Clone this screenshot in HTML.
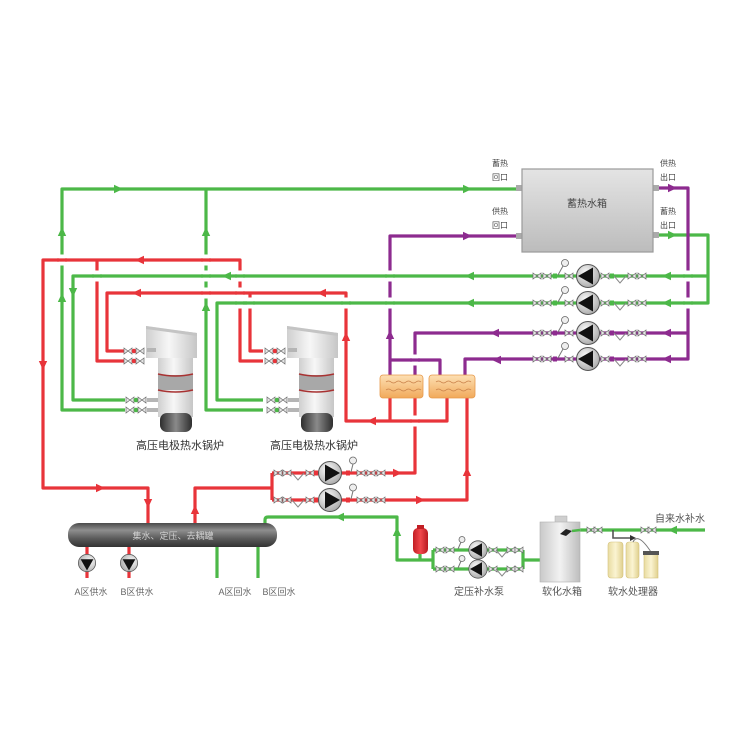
<!DOCTYPE html>
<html><head><meta charset="utf-8"><style>
html,body{margin:0;padding:0;background:#fff;}
svg{display:block;}
text{font-family:"Liberation Sans","Noto Sans CJK SC",sans-serif;}
</style></head><body>
<svg width="750" height="750" viewBox="0 0 750 750" xmlns="http://www.w3.org/2000/svg">
<defs>
 <path id="ar" d="M5,0 L-4,-4.2 L-4,4.2Z"/>
 <linearGradient id="tankG" x1="0" y1="0" x2="0" y2="1"><stop offset="0" stop-color="#e4e4e4"/><stop offset="1" stop-color="#bcbcbc"/></linearGradient>
 <linearGradient id="colG" x1="0" y1="0" x2="0" y2="1"><stop offset="0" stop-color="#4a4a4a"/><stop offset="0.3" stop-color="#8e8e8e"/><stop offset="0.65" stop-color="#5a5a5a"/><stop offset="1" stop-color="#333"/></linearGradient>
 <linearGradient id="hxG" x1="0" y1="0" x2="0" y2="1"><stop offset="0" stop-color="#fde0b4"/><stop offset="1" stop-color="#f1a95a"/></linearGradient>
 <radialGradient id="pumpG" cx="0.4" cy="0.35" r="0.7"><stop offset="0" stop-color="#fafafa"/><stop offset="1" stop-color="#a8a8a8"/></radialGradient>
 <linearGradient id="boilG" x1="0" y1="0" x2="1" y2="0"><stop offset="0" stop-color="#cfcfcf"/><stop offset="0.45" stop-color="#f7f7f7"/><stop offset="1" stop-color="#c6c6c6"/></linearGradient>
 <linearGradient id="boilBot" x1="0" y1="0" x2="1" y2="0"><stop offset="0" stop-color="#2e2e2e"/><stop offset="0.5" stop-color="#8a8a8a"/><stop offset="1" stop-color="#2e2e2e"/></linearGradient>
 <linearGradient id="softG" x1="0" y1="0" x2="1" y2="0"><stop offset="0" stop-color="#c9c9c9"/><stop offset="0.5" stop-color="#f2f2f2"/><stop offset="1" stop-color="#bdbdbd"/></linearGradient>
 <linearGradient id="yelG" x1="0" y1="0" x2="1" y2="0"><stop offset="0" stop-color="#e8dba0"/><stop offset="0.5" stop-color="#fbf4d2"/><stop offset="1" stop-color="#e0d08e"/></linearGradient>
 <linearGradient id="expG" x1="0" y1="0" x2="1" y2="0"><stop offset="0" stop-color="#c21e24"/><stop offset="0.5" stop-color="#f0474b"/><stop offset="1" stop-color="#b81a20"/></linearGradient>

 <g id="bt"><path d="M-4,-3 L0,0 L-4,3Z M4,-3 L0,0 L4,3Z" fill="#e6e6e6" stroke="#6a6a6a" stroke-width="0.7"/></g>
 <g id="pumpL"><circle r="11.5" fill="url(#pumpG)" stroke="#555" stroke-width="1"/><path d="M-10,0 L5,-8.5 L5,8.5Z" fill="#111"/></g>
 <g id="pumpR"><circle r="11.5" fill="url(#pumpG)" stroke="#555" stroke-width="1"/><path d="M10,0 L-5,-8.5 L-5,8.5Z" fill="#111"/></g>
 <g id="chk"><path d="M-6,0 L0,7 L6,0" fill="none" stroke="#888" stroke-width="1"/></g>

 <g id="rowR">
  <use href="#bt" x="537"/><use href="#bt" x="547"/>
  <rect x="553" y="-2.5" width="4" height="5" fill="currentColor"/>
  <path d="M558,-1 L563,-10" stroke="#777" stroke-width="1"/>
  <circle cx="565" cy="-13" r="3.5" fill="#eee" stroke="#666" stroke-width="0.8"/>
  <use href="#bt" x="569"/>
  <use href="#pumpL" x="588"/>
  <use href="#bt" x="605"/>
  <rect x="610" y="-2.5" width="4" height="5" fill="currentColor"/>
  <use href="#chk" x="620"/>
  <use href="#bt" x="632"/><use href="#bt" x="642"/>
 </g>
 <g id="rowL">
  <use href="#bt" x="278"/><use href="#bt" x="287"/>
  <use href="#chk" x="298"/>
  <use href="#bt" x="310"/>
  <rect x="314" y="-2.5" width="4" height="5" fill="currentColor"/>
  <use href="#pumpR" x="330"/>
  <rect x="346" y="-2.5" width="4" height="5" fill="currentColor"/>
  <path d="M351,-1 L353,-9" stroke="#777" stroke-width="1"/>
  <circle cx="353" cy="-12.5" r="3.5" fill="#eee" stroke="#666" stroke-width="0.8"/>
  <use href="#bt" x="361"/><use href="#bt" x="371"/><use href="#bt" x="381"/>
 </g>
 <g id="rowS">
  <use href="#bt" x="440"/><use href="#bt" x="450"/>
  <path d="M458,-1 L461,-8" stroke="#777" stroke-width="1"/>
  <circle cx="462" cy="-10.5" r="3" fill="#eee" stroke="#666" stroke-width="0.8"/>
  <g transform="translate(478,0) scale(0.8)"><use href="#pumpL"/></g>
  <use href="#bt" x="493"/>
  <use href="#chk" x="502"/>
  <use href="#bt" x="511"/><use href="#bt" x="519"/>
 </g>

 <g id="boiler">
  <rect x="158" y="355" width="35" height="62" fill="url(#boilG)"/>
  <rect x="158" y="375" width="35" height="15" fill="#a8a8a8"/>
  <path d="M158,374 Q175.5,378 193,374" fill="none" stroke="#a83232" stroke-width="1.6"/>
  <path d="M158,390 Q175.5,394 193,390" fill="none" stroke="#a83232" stroke-width="1.6"/>
  <polygon points="146,326 197,333 197,358 146,358" fill="url(#boilG)"/>
  <polygon points="146,326 197,333 197,336 146,329" fill="#c4c4c4"/>
  <rect x="160" y="413" width="32" height="19" rx="7" fill="url(#boilBot)"/>
  <rect x="147" y="348" width="9" height="4" fill="#b5b5b5"/>
  <use href="#bt" x="128" y="351"/><circle cx="134" cy="351" r="2.3" fill="#e8343a"/><use href="#bt" x="140" y="351"/>
  <use href="#bt" x="128" y="361"/><circle cx="134" cy="361" r="2.3" fill="#e8343a"/><use href="#bt" x="140" y="361"/>
  <use href="#bt" x="130" y="400"/><circle cx="136" cy="400" r="2.3" fill="#4cb848"/><use href="#bt" x="142" y="400"/>
  <use href="#bt" x="130" y="410"/><circle cx="136" cy="410" r="2.3" fill="#4cb848"/><use href="#bt" x="142" y="410"/>
  <rect x="147" y="398" width="11" height="4" fill="#b5b5b5"/>
  <rect x="147" y="408" width="11" height="4" fill="#b5b5b5"/>
 </g>
</defs>

<rect width="750" height="750" fill="#fff"/>

<!-- pipes -->
<g fill="none" stroke-width="3.2" stroke-linejoin="round">
 <g stroke="#4cb848">
  <path d="M125,410 H62 V189 H520"/>
  <path d="M263,410 H206 V189"/>
  <path d="M125,400 H73 V276 H708"/>
  <path d="M653,235 H708 V303 H217 V400 H263"/>
  <path d="M265,523 V520 Q265,517 268,517 H397 V560 H433"/>
  <path d="M433,550 V569 M433,550 H523 M433,569 H523 M523,550 V569 M523,560 H540"/>
  <path d="M580,530 H705"/>
  <path d="M217,547 V578 M258,547 V578"/>
  <path d="M420,560 V553"/>
 </g>
 <g stroke="#e8343a">
  <path d="M263,361 H240 V260 H43 V488 H148 V523"/>
  <path d="M97,260 V361 H125"/>
  <path d="M125,351 H107 V293 H346 V421 H447 V398"/>
  <path d="M250,293 V351 H263"/>
  <path d="M390,398 V421"/>
  <path d="M195,523 V488 H272 M272,473 V500 M272,473 H415 V398 M272,500 H467 V398"/>
  <path d="M87,547 V578 M129,547 V578"/>
 </g>
 <g stroke="#8d2b8f">
  <path d="M653,188 H688 V359 H465 V375"/>
  <path d="M688,333 H415 V375"/>
  <path d="M522,236 H390 V375"/>
  <path d="M390,360 H440 V375"/>
 </g>
</g>

<!-- crossing gaps -->
<g>
 <g fill="#fff">
  <rect x="59" y="254.5" width="6" height="11"/>
  <rect x="203" y="254.5" width="6" height="11"/>
  <rect x="203" y="270.5" width="6" height="11"/>
  <rect x="203" y="287.5" width="6" height="11"/>
  <rect x="94" y="270.5" width="6" height="11"/>
  <rect x="237" y="270.5" width="6" height="11"/>
  <rect x="237" y="287.5" width="6" height="11"/>
  <rect x="237" y="297.5" width="6" height="11"/>
  <rect x="247" y="297.5" width="6" height="11"/>
  <rect x="343" y="297.5" width="6" height="11"/>
  <rect x="387" y="270.5" width="6" height="11"/>
  <rect x="387" y="297.5" width="6" height="11"/>
  <rect x="685" y="270.5" width="6" height="11"/>
  <rect x="685" y="297.5" width="6" height="11"/>
  <rect x="412" y="415.5" width="6" height="11"/>
  <rect x="412" y="354.5" width="6" height="11"/>
 </g>
 <g stroke-width="3.2">
  <path d="M57,260 H67 M201,260 H211 M201,293 H211 M235,293 H245" stroke="#e8343a"/>
  <path d="M201,276 H211 M92,276 H102 M235,276 H245 M235,303 H255 M341,303 H351 M385,276 H395 M385,303 H395 M683,276 H693 M683,303 H693" stroke="#4cb848"/>
  <path d="M410,421 H420" stroke="#e8343a"/>
  <path d="M410,360 H420" stroke="#8d2b8f"/>
 </g>
</g>

<!-- arrows -->
<g fill="#4cb848">
 <use href="#ar" transform="translate(118,189)"/>
 <use href="#ar" transform="translate(467,189)"/>
 <use href="#ar" transform="translate(62,232) rotate(-90)"/>
 <use href="#ar" transform="translate(62,298) rotate(-90)"/>
 <use href="#ar" transform="translate(206,232) rotate(-90)"/>
 <use href="#ar" transform="translate(206,307) rotate(-90)"/>
 <use href="#ar" transform="translate(227,276) rotate(180)"/>
 <use href="#ar" transform="translate(470,276) rotate(180)"/>
 <use href="#ar" transform="translate(667,276) rotate(180)"/>
 <use href="#ar" transform="translate(73,292) rotate(90)"/>
 <use href="#ar" transform="translate(470,303) rotate(180)"/>
 <use href="#ar" transform="translate(667,303) rotate(180)"/>
 <use href="#ar" transform="translate(340,517) rotate(180)"/>
 <use href="#ar" transform="translate(397,532) rotate(-90)"/>
 <use href="#ar" transform="translate(672,235)"/>
 <use href="#ar" transform="translate(673,530) rotate(180)"/>
</g>
<g fill="#e8343a">
 <use href="#ar" transform="translate(140,260) rotate(180)"/>
 <use href="#ar" transform="translate(43,365) rotate(90)"/>
 <use href="#ar" transform="translate(137,293) rotate(180)"/>
 <use href="#ar" transform="translate(322,293) rotate(180)"/>
 <use href="#ar" transform="translate(346,337) rotate(-90)"/>
 <use href="#ar" transform="translate(372,421) rotate(180)"/>
 <use href="#ar" transform="translate(100,488)"/>
 <use href="#ar" transform="translate(148,503) rotate(90)"/>
 <use href="#ar" transform="translate(195,510) rotate(-90)"/>
 <use href="#ar" transform="translate(397,473)"/>
 <use href="#ar" transform="translate(420,500)"/>
 <use href="#ar" transform="translate(467,472) rotate(-90)"/>
</g>
<g fill="#8d2b8f">
 <use href="#ar" transform="translate(467,236)"/>
 <use href="#ar" transform="translate(672,188)"/>
 <use href="#ar" transform="translate(390,335) rotate(-90)"/>
 <use href="#ar" transform="translate(495,333) rotate(180)"/>
 <use href="#ar" transform="translate(667,333) rotate(180)"/>
 <use href="#ar" transform="translate(497,360) rotate(180)"/>
 <use href="#ar" transform="translate(667,359) rotate(180)"/>
</g>

<!-- storage tank -->
<rect x="516" y="185" width="7" height="6" fill="#aaa"/>
<rect x="516" y="233" width="7" height="6" fill="#aaa"/>
<rect x="652" y="185" width="7" height="6" fill="#aaa"/>
<rect x="652" y="232" width="7" height="6" fill="#aaa"/>
<rect x="522" y="169" width="131" height="83" fill="url(#tankG)" stroke="#9a9a9a" stroke-width="1.2"/>
<text x="587" y="207" font-size="10" fill="#444" text-anchor="middle">蓄热水箱</text>
<g font-size="8" fill="#444" text-anchor="middle">
 <text x="500" y="166">蓄热</text><text x="500" y="180">回口</text>
 <text x="500" y="214">供热</text><text x="500" y="228">回口</text>
 <text x="668" y="166">供热</text><text x="668" y="180">出口</text>
 <text x="668" y="214">蓄热</text><text x="668" y="228">出口</text>
</g>

<!-- pump rows right -->
<use href="#rowR" y="276" color="#4cb848"/>
<use href="#rowR" y="303" color="#4cb848"/>
<use href="#rowR" y="333" color="#8d2b8f"/>
<use href="#rowR" y="359" color="#8d2b8f"/>

<!-- pump rows left -->
<use href="#rowL" y="473" color="#e8343a"/>
<use href="#rowL" y="500" color="#e8343a"/>

<!-- heat exchangers -->
<g>
 <rect x="380" y="375" width="43" height="23" rx="3" fill="url(#hxG)" stroke="#e69a4c" stroke-width="0.8"/>
 <rect x="429" y="375" width="46" height="23" rx="3" fill="url(#hxG)" stroke="#e69a4c" stroke-width="0.8"/>
 <g fill="none" stroke="#c98048" stroke-width="0.8">
  <path d="M386,382 q2.5,-2 5,0 t5,0 t5,0 t5,0 t5,0 t5,0 t5,0"/>
  <path d="M386,390 q2.5,-2 5,0 t5,0 t5,0 t5,0 t5,0 t5,0 t5,0"/>
  <path d="M436,382 q2.5,-2 5,0 t5,0 t5,0 t5,0 t5,0 t5,0 t5,0"/>
  <path d="M436,390 q2.5,-2 5,0 t5,0 t5,0 t5,0 t5,0 t5,0 t5,0"/>
 </g>
</g>

<!-- boilers -->
<use href="#boiler"/>
<use href="#boiler" x="141"/>
<text x="180" y="449" font-size="11" fill="#333" text-anchor="middle">高压电极热水锅炉</text>
<text x="314" y="449" font-size="11" fill="#333" text-anchor="middle">高压电极热水锅炉</text>

<!-- collector tank -->
<rect x="68" y="523" width="209" height="24" rx="11" fill="url(#colG)"/>
<text x="173" y="539" font-size="9" fill="#d0d0d0" text-anchor="middle">集水、定压、去耦罐</text>
<g transform="translate(87,563) rotate(90) scale(0.75)"><use href="#pumpR"/></g>
<g transform="translate(129,563) rotate(90) scale(0.75)"><use href="#pumpR"/></g>
<g font-size="9" fill="#666" text-anchor="middle">
 <text x="91" y="595">A区供水</text>
 <text x="137" y="595">B区供水</text>
 <text x="235" y="595">A区回水</text>
 <text x="279" y="595">B区回水</text>
</g>

<!-- make-up pumps -->
<rect x="413" y="528" width="15" height="26" rx="5" fill="url(#expG)"/>
<rect x="417" y="525" width="7" height="4" fill="#c21e24"/>
<use href="#rowS" y="550" color="#4cb848"/>
<use href="#rowS" y="569" color="#4cb848"/>

<!-- softened water tank -->
<rect x="555" y="516" width="12" height="7" fill="#cfcfcf" stroke="#aaa" stroke-width="0.5"/>
<rect x="540" y="522" width="40" height="60" fill="url(#softG)" stroke="#b0b0b0" stroke-width="0.6"/>
<path d="M560,534 L566,529 L572,531 L566,536Z" fill="#222"/>
<path d="M572,531 L580,530" stroke="#4cb848" stroke-width="2.5"/>

<!-- valves on makeup line -->
<use href="#bt" x="591" y="530"/><use href="#bt" x="598" y="530"/>
<use href="#bt" x="645" y="530"/><use href="#bt" x="652" y="530"/>

<!-- water softener -->
<path d="M613,530 V538 H632" fill="none" stroke="#555" stroke-width="1.6"/>
<path d="M636,538 L630,535 L630,541Z" fill="#333"/>
<rect x="608" y="542" width="15" height="36" rx="3" fill="url(#yelG)" stroke="#d4c27c" stroke-width="0.6"/>
<rect x="626" y="542" width="13" height="36" rx="3" fill="url(#yelG)" stroke="#d4c27c" stroke-width="0.6"/>
<path d="M633,542 Q638,532 651,552" fill="none" stroke="#777" stroke-width="1"/>
<rect x="644" y="554" width="14" height="24" fill="url(#yelG)" stroke="#d4c27c" stroke-width="0.6"/>
<rect x="643" y="551" width="16" height="4" fill="#555"/>

<g font-size="10" fill="#555" text-anchor="middle">
 <text x="479" y="595">定压补水泵</text>
 <text x="562" y="595">软化水箱</text>
 <text x="633" y="595">软水处理器</text>
 <text x="680" y="522">自来水补水</text>
</g>
</svg>
</body></html>
